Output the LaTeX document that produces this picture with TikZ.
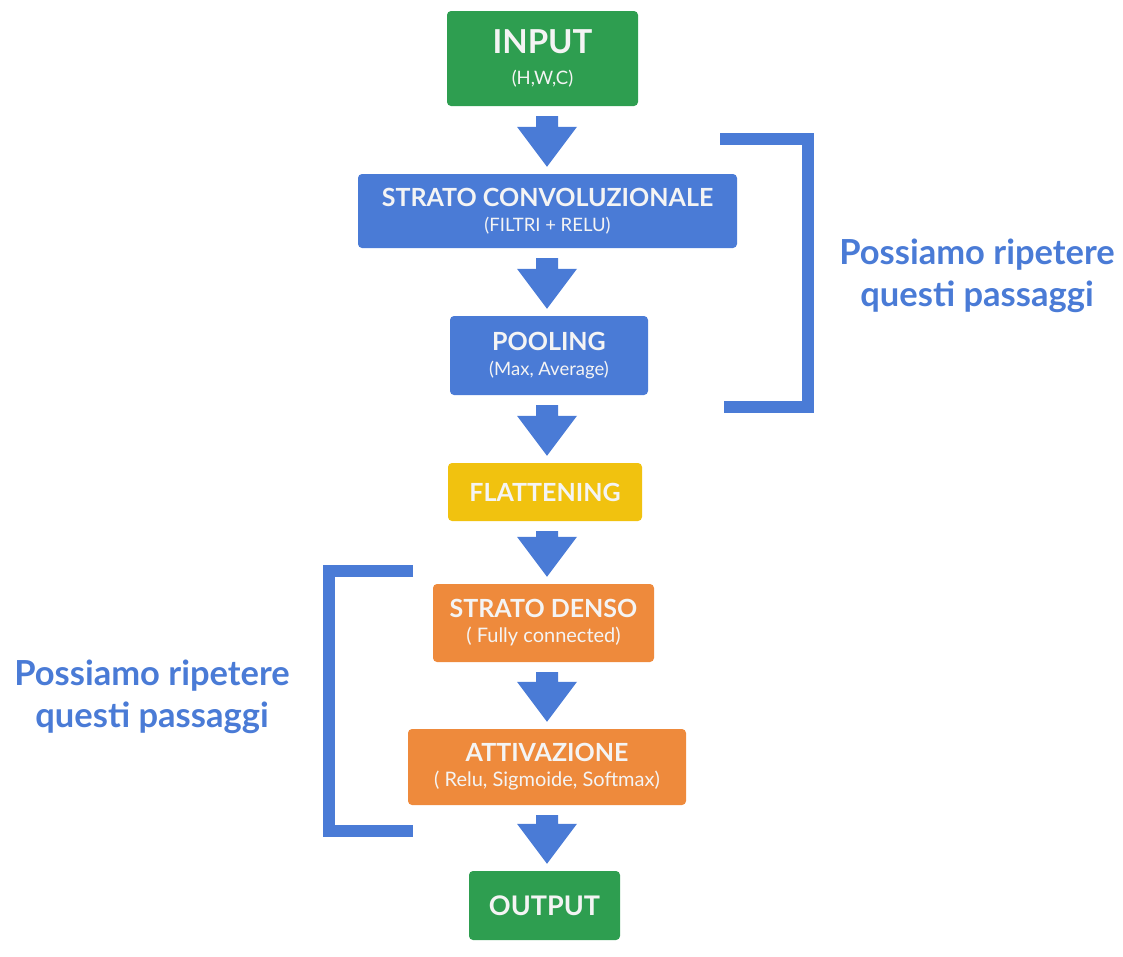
\documentclass[tikz,border=0pt]{standalone}
\usepackage{fontspec}
\setmainfont{Lato}
\usetikzlibrary{calc}
\definecolor{gbox}{HTML}{2E9E50}
\definecolor{bbox}{HTML}{4A7BD6}
\definecolor{ybox}{HTML}{F1C20F}
\definecolor{obox}{HTML}{EE8A3C}
\definecolor{wtxt}{HTML}{F4F4F4}
\newcommand\ttl[1]{{\fontsize{25}{28}\selectfont\bfseries #1}}
\newcommand\sbt[2]{{\fontsize{#1}{24}\selectfont #2}}
\newcommand\flowarrow[2]{%
  \path (#1.south -| axis) ++(0,10) coordinate (t) (#2.north -| axis) ++(0,-7) coordinate (h);
  \fill[arrowfill] ($(t)+(-11,0)$) -- ($(t)+(11,0)$) -- ($(h)+(11,-40)$) -- ($(h)+(30,-40)$)
     -- (h) -- ($(h)+(-30,-40)$) -- ($(h)+(-11,-40)$) -- cycle;}
\begin{document}
\begin{tikzpicture}[x=1pt,y=-1pt,
  box/.style={rounded corners=4pt, inner sep=0pt, text=wtxt, align=center, font=\fontsize{18}{25}\selectfont},
  arrowfill/.style={fill=bbox},
  bracket/.style={draw=bbox, line width=12pt, line cap=butt, line join=miter},
  note/.style={text=bbox, align=center, font=\fontsize{34.5}{41.5}\selectfont\bfseries}]
\useasboundingbox (0,0) rectangle (1123,956);
\coordinate (axis) at (547,0);
\node[box, fill=gbox, minimum width=191pt, minimum height=95pt, font=\fontsize{18.5}{31}\selectfont] (in) at (542.5,58.5)
  {{\fontsize{33}{36}\selectfont\bfseries INPUT}\\\sbt{18.5}{(H,W,C)}};
\node[box, fill=bbox, minimum width=379pt, minimum height=74pt] (conv) at (547.5,211)
  {\ttl{STRATO CONVOLUZIONALE}\\\sbt{18.5}{(FILTRI + RELU)}};
\node[box, fill=bbox, minimum width=198pt, minimum height=79pt] (pool) at (549,355.5)
  {\ttl{POOLING}\\\sbt{18.5}{(Max, Average)}};
\node[box, fill=ybox, minimum width=194pt, minimum height=58pt] (flat) at (545,492)
  {\ttl{FLATTENING}};
\node[box, fill=obox, minimum width=221pt, minimum height=78pt] (dense) at (543.5,623)
  {\ttl{STRATO DENSO}\\\sbt{20}{( Fully connected)}};
\node[box, fill=obox, minimum width=278pt, minimum height=76pt] (act) at (547,767)
  {\ttl{ATTIVAZIONE}\\\sbt{20}{( Relu, Sigmoide, Softmax)}};
\node[box, fill=gbox, minimum width=151pt, minimum height=69pt] (out) at (544.5,905.5)
  {{\fontsize{27}{30}\selectfont\bfseries OUTPUT}};
\flowarrow{in}{conv}
\flowarrow{conv}{pool}
\flowarrow{pool}{flat}
\flowarrow{flat}{dense}
\flowarrow{dense}{act}
\flowarrow{act}{out}
\draw[bracket] (720,139) -- (807.5,139) -- (807.5,406.5) -- (724,406.5);
\draw[bracket] (413,571) -- (329,571) -- (329,831) -- (413,831);
\node[note] (n1) at (977,276) {Possiamo ripetere\\questi passaggi};
\node[note] (n2) at (152,697) {Possiamo ripetere\\questi passaggi};
\end{tikzpicture}
\end{document}
